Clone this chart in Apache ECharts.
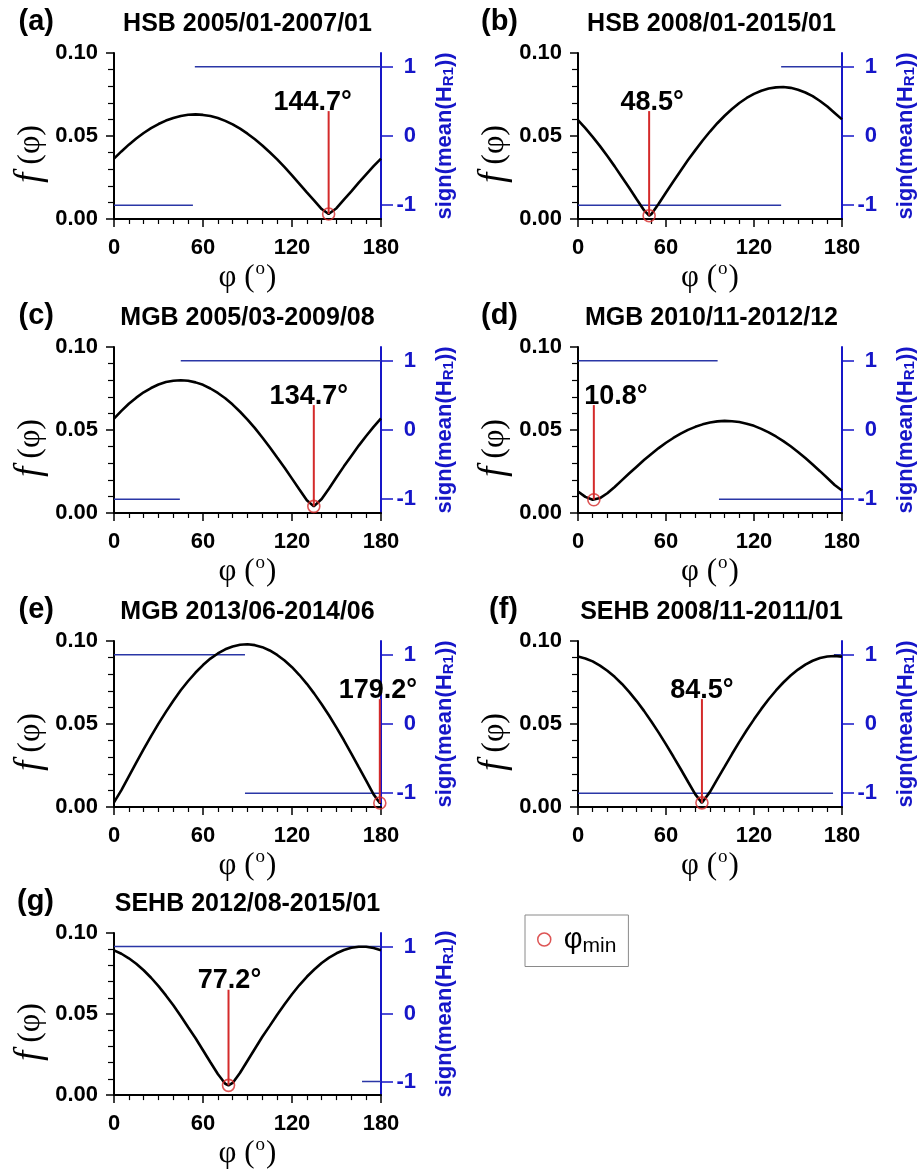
<!DOCTYPE html>
<html>
<head>
<meta charset="utf-8">
<script src="https://cdn.jsdelivr.net/npm/echarts@6/dist/echarts.min.js"></script>
<style>
  html, body { margin: 0; padding: 0; background: #ffffff; }
  #chart { width: 918px; height: 1170px; }
</style>
</head>
<body>
<div id="chart"></div>
<script>
// ---- data -------------------------------------------------------------
// azimuth grid (degrees) on which f(phi) is sampled
const phiGrid = [0,5,10,15,20,25,30,35,40,45,50,55,60,65,70,75,80,85,90,
                 95,100,105,110,115,120,125,130,135,140,145,150,155,160,165,170,175,180];

const panelLetters = ['(a)','(b)','(c)','(d)','(e)','(f)','(g)'];
const panelTitles = ['HSB 2005/01-2007/01','HSB 2008/01-2015/01','MGB 2005/03-2009/08',
                     'MGB 2010/11-2012/12','MGB 2013/06-2014/06','SEHB 2008/11-2011/01',
                     'SEHB 2012/08-2015/01'];

// angle of the minimum and the value of f there
const phiMin = [144.7, 48.5, 134.7, 10.8, 179.2, 84.5, 77.2];
const fMin   = [0.0030, 0.0020, 0.0040, 0.0080, 0.0024, 0.0025, 0.0060];

// f(phi) on phiGrid, one list per panel
const fA = [0.0364,0.0407,0.0448,0.0485,0.0518,0.0547,0.0572,0.0593,0.0609,0.0621,0.0628,0.0630,0.0627,0.0620,0.0608,0.0591,0.0570,0.0544,0.0514,0.0480,0.0443,0.0402,0.0359,0.0312,0.0263,0.0212,0.0160,0.0110,0.0060,0.0030,0.0065,0.0117,0.0166,0.0219,0.0269,0.0318,0.0364];
const fB = [0.0595,0.0547,0.0495,0.0439,0.0379,0.0317,0.0252,0.0187,0.0119,0.0053,0.0029,0.0092,0.0160,0.0226,0.0291,0.0355,0.0415,0.0473,0.0527,0.0577,0.0622,0.0663,0.0699,0.0729,0.0754,0.0773,0.0786,0.0793,0.0795,0.0790,0.0779,0.0762,0.0740,0.0711,0.0678,0.0639,0.0600];
const fC = [0.0569,0.0615,0.0658,0.0695,0.0727,0.0753,0.0774,0.0789,0.0797,0.0800,0.0797,0.0787,0.0772,0.0750,0.0723,0.0691,0.0653,0.0610,0.0563,0.0511,0.0455,0.0396,0.0334,0.0273,0.0207,0.0141,0.0077,0.0040,0.0084,0.0148,0.0215,0.0281,0.0344,0.0406,0.0464,0.0519,0.0570];
const fD = [0.0130,0.0097,0.0080,0.0090,0.0119,0.0157,0.0198,0.0239,0.0279,0.0319,0.0356,0.0391,0.0423,0.0452,0.0478,0.0501,0.0519,0.0534,0.0545,0.0552,0.0555,0.0553,0.0548,0.0538,0.0525,0.0507,0.0486,0.0461,0.0433,0.0402,0.0368,0.0331,0.0292,0.0252,0.0211,0.0169,0.0135];
const fE = [0.0028,0.0102,0.0185,0.0267,0.0348,0.0427,0.0502,0.0573,0.0640,0.0703,0.0759,0.0810,0.0855,0.0894,0.0925,0.0950,0.0967,0.0977,0.0980,0.0975,0.0963,0.0943,0.0916,0.0882,0.0842,0.0795,0.0742,0.0683,0.0619,0.0551,0.0478,0.0402,0.0322,0.0240,0.0159,0.0076,0.0028];
const fF = [0.0906,0.0895,0.0877,0.0852,0.0821,0.0784,0.0741,0.0692,0.0638,0.0579,0.0515,0.0448,0.0377,0.0304,0.0229,0.0152,0.0076,0.0026,0.0091,0.0168,0.0243,0.0319,0.0392,0.0462,0.0528,0.0591,0.0649,0.0702,0.0750,0.0792,0.0828,0.0858,0.0881,0.0898,0.0907,0.0910,0.0906];
const fG = [0.0893,0.0872,0.0844,0.0810,0.0770,0.0724,0.0672,0.0615,0.0554,0.0488,0.0419,0.0351,0.0277,0.0203,0.0130,0.0070,0.0075,0.0138,0.0212,0.0286,0.0360,0.0427,0.0496,0.0561,0.0622,0.0679,0.0730,0.0775,0.0815,0.0848,0.0875,0.0895,0.0909,0.0915,0.0915,0.0907,0.0893];
const fSeries = [fA, fB, fC, fD, fE, fF, fG];

// sign(mean(H_R1)) as piecewise segments: [phiStart, phiEnd, sign]
const signA = [[0, 53.2, -1], [54.5, 180, 1]];
const signB = [[0, 138.5, -1], [138.5, 180, 1]];
const signC = [[0, 44.4, -1], [45.0, 180, 1]];
const signD = [[0, 95.2, 1], [96.1, 180, -1]];
const signE = [[0, 88.3, 1], [88.3, 180, -1]];
const signF = [[0, 173.9, -1], [174.5, 180, 1]];
const signG = [[0, 180, 1], [167.2, 180, -1]];
const signSeries = [signA, signB, signC, signD, signE, signF, signG];

// top end of the marker line drawn up from each minimum
const markerTop = 0.065;

// tick values
const xTicks = [0, 60, 120, 180];
const fTicks = [0, 0.05, 0.10];
const signTicks = [-1, 0, 1];

// ---- layout -----------------------------------------------------------
const colLeft = [114, 578];
const rowTop = [53, 347, 641, 933];
const plotW = 267, plotH = 166;
const labelShift = [-16, 3, -5, 22, -2, 0, 1];   // horizontal nudge of the angle label

const BLACK = '#000000';
const RED = '#d42a2a';
const AXIS_BLUE = '#1616c8';
const LINE_BLUE = '#2a36a6';
const SANS = 'Liberation Sans';
const SERIF = 'Liberation Serif';

const grids = [], xAxes = [], yAxes = [], series = [], graphics = [];

panelTitles.forEach((title, i) => {
  const c = i % 2, r = Math.floor(i / 2);
  const left = colLeft[c], top = rowTop[r];
  grids.push({ left: left, top: top, width: plotW, height: plotH, containLabel: false });

  graphics.push({
    type: 'text', x: left - 60, y: top - 31, silent: true,
    style: { text: panelLetters[i], fontSize: 29, fontWeight: 'bold', fontFamily: SANS,
             fill: BLACK, align: 'right', verticalAlign: 'middle' }
  });
  graphics.push({
    type: 'text', x: left + plotW / 2, y: top - 29, silent: true,
    style: { text: title, fontSize: 25, fontWeight: 'bold', fontFamily: SANS,
             fill: BLACK, align: 'center', verticalAlign: 'middle' }
  });

  xAxes.push({
    gridIndex: i, type: 'value', min: 0, max: 180, interval: 60,
    axisLine: { show: true, onZero: false, lineStyle: { color: BLACK, width: 2 } },
    axisTick: { show: true, length: 8, customValues: xTicks, lineStyle: { color: BLACK, width: 1.5 } },
    minorTick: { show: true, splitNumber: 6, length: 5, lineStyle: { color: BLACK, width: 1.2 } },
    splitLine: { show: false },
    axisLabel: { customValues: xTicks, fontSize: 22, fontWeight: 'bold', color: BLACK,
                 fontFamily: SANS, margin: 18 },
    name: '{n|φ (}{o|o}{n|)}', nameLocation: 'middle', nameGap: 39,
    nameTextStyle: {
      rich: {
        n: { fontFamily: SERIF, fontSize: 31, color: BLACK },
        o: { fontFamily: SERIF, fontSize: 19, color: BLACK, padding: [0, 1, 16, 1] }
      }
    }
  });

  yAxes.push({
    gridIndex: i, type: 'value', position: 'left', min: 0, max: 0.1, interval: 0.05,
    axisLine: { show: true, onZero: false, lineStyle: { color: BLACK, width: 2 } },
    axisTick: { show: true, length: 8, customValues: fTicks, lineStyle: { color: BLACK, width: 1.5 } },
    minorTick: { show: true, splitNumber: 5, length: 6, lineStyle: { color: BLACK, width: 1.2 } },
    splitLine: { show: false },
    axisLabel: { customValues: fTicks, fontSize: 22, fontWeight: 'bold', color: BLACK,
                 fontFamily: SANS, margin: 16, formatter: v => v.toFixed(2) },
    name: '{f|f}{n| (φ)}', nameLocation: 'middle', nameRotate: 90, nameGap: 65,
    nameTextStyle: {
      padding: [0, 36, 0, 0],
      rich: {
        f: { fontFamily: SERIF, fontStyle: 'italic', fontSize: 37, color: BLACK },
        n: { fontFamily: SERIF, fontSize: 32, color: BLACK }
      }
    }
  });

  yAxes.push({
    gridIndex: i, type: 'value', position: 'right', min: -1.2, max: 1.2,
    axisLine: { show: true, onZero: false, lineStyle: { color: AXIS_BLUE, width: 2 } },
    axisTick: { show: true, length: 12, customValues: signTicks, lineStyle: { color: AXIS_BLUE, width: 1.5 } },
    minorTick: { show: false },
    splitLine: { show: false },
    axisLabel: { customValues: signTicks, fontSize: 22, fontWeight: 'bold', color: AXIS_BLUE,
                 fontFamily: SANS, align: 'right', margin: 35, formatter: v => String(v) },
    name: '{t|sign(mean(H}{s|R1}{t|))}', nameLocation: 'middle', nameRotate: 90, nameGap: 52,
    nameTextStyle: {
      rich: {
        t: { fontFamily: SANS, fontWeight: 'bold', fontSize: 22, color: AXIS_BLUE },
        s: { fontFamily: SANS, fontWeight: 'bold', fontSize: 15, color: AXIS_BLUE, padding: [8, 0, 0, 0] }
      }
    }
  });

  // f(phi) curve, with the minimum point merged into the grid samples
  const pts = phiGrid.map((p, k) => [p, fSeries[i][k]]);
  pts.push([phiMin[i], fMin[i]]);
  pts.sort((a, b) => a[0] - b[0]);
  series.push({
    type: 'line', xAxisIndex: i, yAxisIndex: 2 * i, data: pts, symbol: 'none',
    lineStyle: { color: BLACK, width: 2.6 }, z: 3, silent: true
  });

  // sign segments on the right axis
  signSeries[i].forEach(seg => {
    series.push({
      type: 'line', xAxisIndex: i, yAxisIndex: 2 * i + 1,
      data: [[seg[0], seg[2]], [seg[1], seg[2]]], symbol: 'none',
      lineStyle: { color: LINE_BLUE, width: 1.5 }, z: 2, silent: true
    });
  });

  // marker line from the minimum with the angle label on top
  series.push({
    type: 'line', xAxisIndex: i, yAxisIndex: 2 * i,
    data: [[phiMin[i], fMin[i]], [phiMin[i], markerTop]], symbol: 'none',
    lineStyle: { color: RED, width: 2 }, z: 4, silent: true,
    markPoint: {
      symbol: 'circle', symbolSize: 1, itemStyle: { color: 'rgba(0,0,0,0)' }, silent: true,
      label: {
        show: true, position: 'top', distance: 0, offset: [labelShift[i], 5],
        formatter: phiMin[i].toFixed(1) + '°',
        fontSize: 27, fontWeight: 'bold', fontFamily: SANS, color: BLACK
      },
      data: [{ coord: [phiMin[i], markerTop] }]
    }
  });

  // open circle at the minimum
  series.push({
    name: 'φmin', type: 'scatter', xAxisIndex: i, yAxisIndex: 2 * i,
    data: [[phiMin[i], fMin[i]]], symbol: 'circle', symbolSize: 12,
    itemStyle: { color: 'rgba(0,0,0,0)', borderColor: RED, borderWidth: 1.6 },
    z: 5, silent: true, clip: false
  });
});

const chart = echarts.init(document.getElementById('chart'), null, { renderer: 'canvas', width: 918, height: 1170 });
chart.setOption({
  animation: false,
  backgroundColor: '#ffffff',
  textStyle: { fontFamily: SANS },
  grid: grids,
  xAxis: xAxes,
  yAxis: yAxes,
  series: series,
  graphic: graphics,
  legend: {
    left: 525, top: 915, orient: 'horizontal', selectedMode: false,
    padding: [10, 12, 10, 12], borderColor: '#8a8a8a', borderWidth: 1,
    itemWidth: 13, itemHeight: 13,
    data: [{ name: 'φmin', icon: 'circle',
             itemStyle: { color: '#ffffff', borderColor: RED, borderWidth: 1.5 } }],
    formatter: () => '{p|φ}{s|min}',
    textStyle: {
      rich: {
        p: { fontFamily: SANS, fontSize: 29, color: BLACK, padding: [0, 0, 0, 8] },
        s: { fontFamily: SANS, fontSize: 21, color: BLACK, padding: [13, 0, 0, 0] }
      }
    }
  }
});
</script>
</body>
</html>
